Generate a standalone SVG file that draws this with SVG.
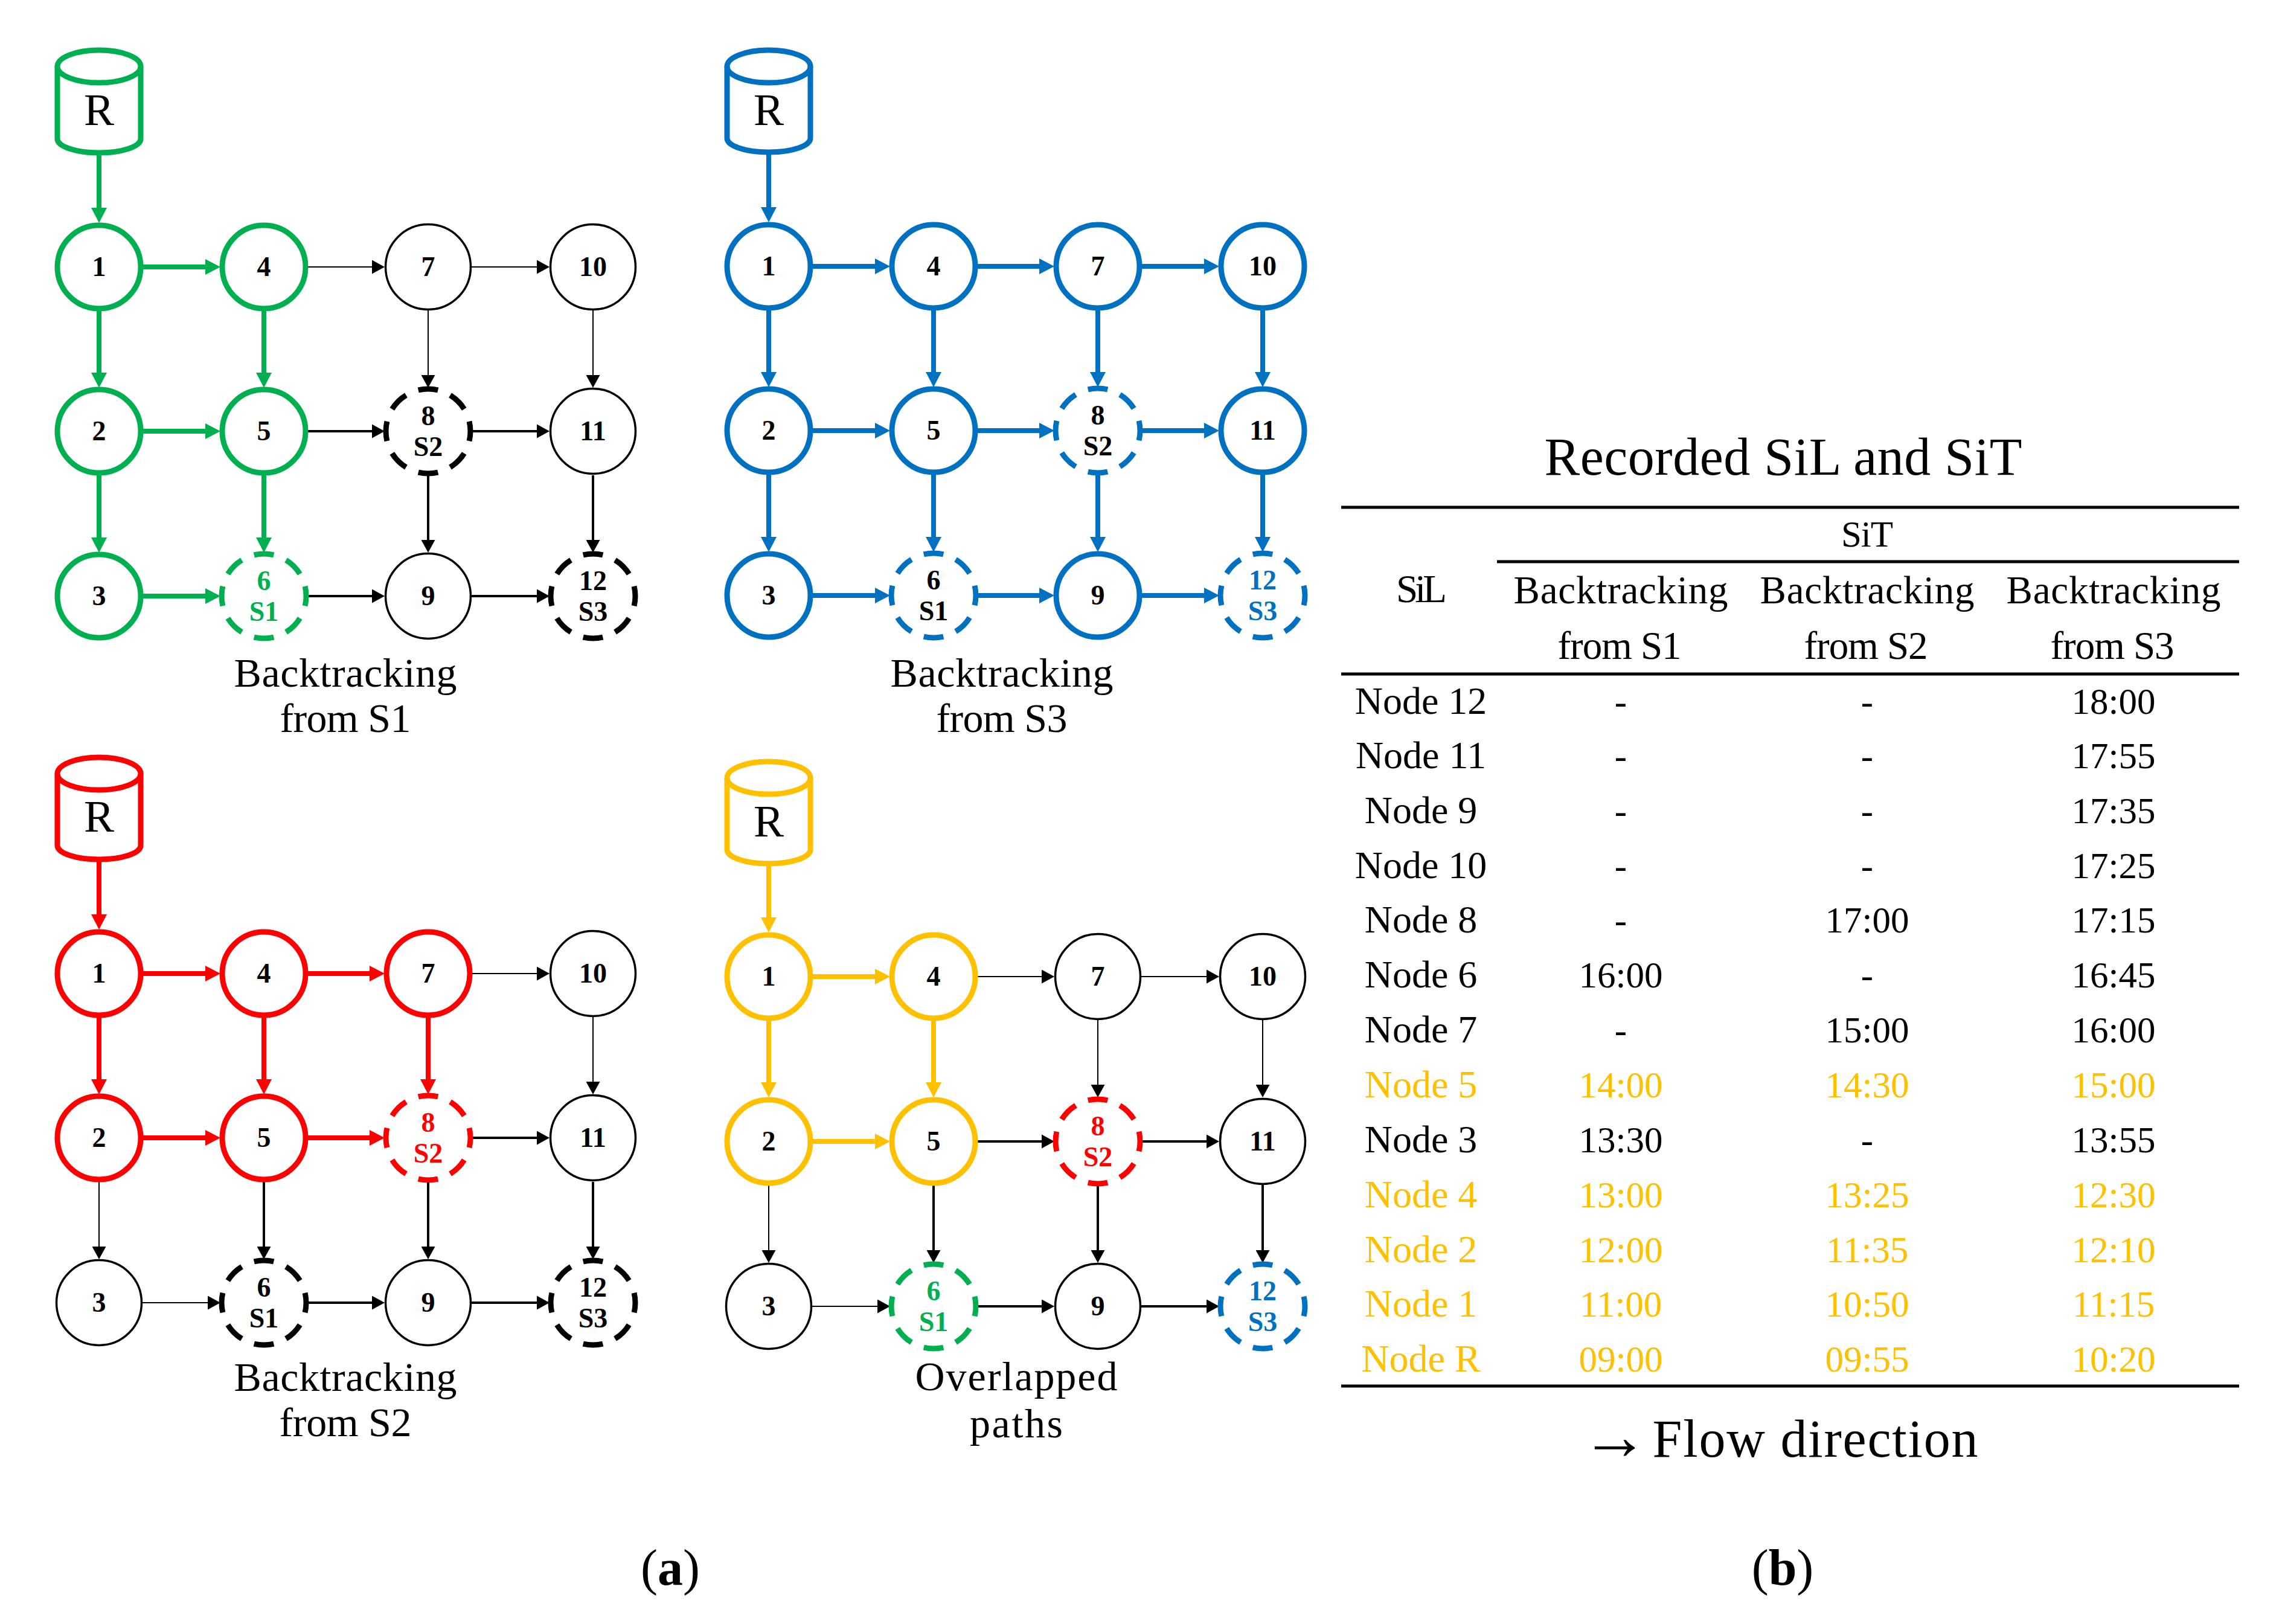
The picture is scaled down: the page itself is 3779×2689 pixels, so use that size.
<svg xmlns="http://www.w3.org/2000/svg" width="3779" height="2689" viewBox="0 0 3779 2689">
<style>
text{font-family:"Liberation Serif","Times New Roman",serif;text-anchor:middle;fill:#000}
.num{font-size:46px;font-weight:700}
.r{font-size:75px}
.cap{font-size:68px}
.tb{font-size:61px}
.hd{font-size:65px}
.nd text:first-child{font-size:64px}
.big{font-size:88px}
.lab{font-size:84px}
.y text,text.y{fill:#FFC000}
text.g{fill:#00B050}text.b{fill:#0070C0}text.d{fill:#FF0000}
line,circle,path{fill:none}
circle{fill:#fff}
.n0{stroke:#000;stroke-width:3.5}
.nk{stroke-width:9}
.dash{stroke-width:9;stroke-dasharray:.6 .4;stroke-dashoffset:.3}
.sg{stroke:#00B050}.sb{stroke:#0070C0}.sd{stroke:#FF0000}.sy{stroke:#FFC000}.sk{stroke:#000}
.t line{stroke:#000;stroke-width:2;marker-end:url(#ah)}
.m line{stroke:#000;stroke-width:4;marker-end:url(#ah)}
.kg line{stroke:#00B050;stroke-width:8;marker-end:url(#ag)}
.kb line{stroke:#0070C0;stroke-width:8;marker-end:url(#ab)}
.kd line{stroke:#FF0000;stroke-width:8;marker-end:url(#ad)}
.ky line{stroke:#FFC000;stroke-width:8;marker-end:url(#ay)}
.rule{stroke:#000;stroke-width:5}
</style>
<defs>
<marker id="ah" markerUnits="userSpaceOnUse" markerWidth="21" markerHeight="23" refX="0" refY="11.5" orient="auto"><path d="M0 0L21 11.5L0 23Z" style="fill:#000"/></marker>
<marker id="ag" markerUnits="userSpaceOnUse" markerWidth="25" markerHeight="26" refX="0" refY="13" orient="auto"><path d="M0 0L25 13L0 26Z" style="fill:#00B050"/></marker>
<marker id="ab" markerUnits="userSpaceOnUse" markerWidth="25" markerHeight="26" refX="0" refY="13" orient="auto"><path d="M0 0L25 13L0 26Z" style="fill:#0070C0"/></marker>
<marker id="ad" markerUnits="userSpaceOnUse" markerWidth="25" markerHeight="26" refX="0" refY="13" orient="auto"><path d="M0 0L25 13L0 26Z" style="fill:#FF0000"/></marker>
<marker id="ay" markerUnits="userSpaceOnUse" markerWidth="25" markerHeight="26" refX="0" refY="13" orient="auto"><path d="M0 0L25 13L0 26Z" style="fill:#FFC000"/></marker>
</defs>

<g id="panel-s1" transform="translate(164 442)">
<g id="s1-R"><path class="nk sg" d="M-69 -332V-212A69 23 0 0 0 69 -212V-332"/><ellipse class="nk sg" cx="0" cy="-332" rx="69" ry="27" fill="none"/><text class="r" y="-235">R</text></g>
<g id="s1-connectors">
<g class="kg"><line x1="0" y1="-185" x2="0" y2="-98"/><line x1="73" y1="0" x2="176" y2="0"/><line x1="73" y1="272" x2="176" y2="272"/><line x1="73" y1="545" x2="176" y2="545"/><line x1="0" y1="73" x2="0" y2="175"/><line x1="0" y1="345" x2="0" y2="448"/><line x1="273" y1="73" x2="273" y2="175"/><line x1="273" y1="345" x2="273" y2="448"/></g>
<g class="t"><line x1="346" y1="0" x2="452" y2="0"/><line x1="617" y1="0" x2="725" y2="0"/><line x1="545" y1="72" x2="545" y2="179"/><line x1="818" y1="72" x2="818" y2="179"/></g>
<g class="m"><line x1="346" y1="272" x2="452" y2="272"/><line x1="617" y1="272" x2="725" y2="272"/><line x1="346" y1="545" x2="452" y2="545"/><line x1="617" y1="545" x2="725" y2="545"/><line x1="545" y1="345" x2="545" y2="452"/><line x1="818" y1="345" x2="818" y2="452"/></g>
</g>
<g id="s1-n1"><circle class="nk sg" r="69"/><text class="num" y="15">1</text></g>
<g id="s1-n2" transform="translate(0 272)"><circle class="nk sg" r="69"/><text class="num" y="15">2</text></g>
<g id="s1-n3" transform="translate(0 545)"><circle class="nk sg" r="69"/><text class="num" y="15">3</text></g>
<g id="s1-n4" transform="translate(273 0)"><circle class="nk sg" r="69"/><text class="num" y="15">4</text></g>
<g id="s1-n5" transform="translate(273 272)"><circle class="nk sg" r="69"/><text class="num" y="15">5</text></g>
<g id="s1-n6" transform="translate(273 545)"><circle class="dash sg" r="70" pathLength="8"/><text class="num g" y="-10">6</text><text class="num g" y="41">S1</text></g>
<g id="s1-n7" transform="translate(545 0)"><circle class="n0" r="70.5"/><text class="num" y="15">7</text></g>
<g id="s1-n8" transform="translate(545 272)"><circle class="dash sk" r="70" pathLength="8"/><text class="num" y="-10">8</text><text class="num" y="41">S2</text></g>
<g id="s1-n9" transform="translate(545 545)"><circle class="n0" r="70.5"/><text class="num" y="15">9</text></g>
<g id="s1-n10" transform="translate(818 0)"><circle class="n0" r="70.5"/><text class="num" y="15">10</text></g>
<g id="s1-n11" transform="translate(818 272)"><circle class="n0" r="70.5"/><text class="num" y="15">11</text></g>
<g id="s1-n12" transform="translate(818 545)"><circle class="dash sk" r="70" pathLength="8"/><text class="num" y="-10">12</text><text class="num" y="41">S3</text></g>
</g>

<g id="panel-s3" transform="translate(1273 441)">
<g id="s3-R"><path class="nk sb" d="M-69 -331V-212A69 23 0 0 0 69 -212V-331"/><ellipse class="nk sb" cx="0" cy="-331" rx="69" ry="27" fill="none"/><text class="r" y="-234">R</text></g>
<g id="s3-connectors">
<g class="kb"><line x1="0" y1="-185" x2="0" y2="-98"/><line x1="73" y1="0" x2="176" y2="0"/><line x1="346" y1="0" x2="448" y2="0"/><line x1="618" y1="0" x2="721" y2="0"/><line x1="73" y1="272" x2="176" y2="272"/><line x1="346" y1="272" x2="448" y2="272"/><line x1="618" y1="272" x2="721" y2="272"/><line x1="73" y1="545" x2="176" y2="545"/><line x1="346" y1="545" x2="448" y2="545"/><line x1="618" y1="545" x2="721" y2="545"/><line x1="0" y1="73" x2="0" y2="175"/><line x1="273" y1="73" x2="273" y2="175"/><line x1="545" y1="73" x2="545" y2="175"/><line x1="818" y1="73" x2="818" y2="175"/><line x1="0" y1="345" x2="0" y2="448"/><line x1="273" y1="345" x2="273" y2="448"/><line x1="545" y1="345" x2="545" y2="448"/><line x1="818" y1="345" x2="818" y2="448"/></g>
</g>
<g id="s3-n1"><circle class="nk sb" r="69"/><text class="num" y="15">1</text></g>
<g id="s3-n2" transform="translate(0 272)"><circle class="nk sb" r="69"/><text class="num" y="15">2</text></g>
<g id="s3-n3" transform="translate(0 545)"><circle class="nk sb" r="69"/><text class="num" y="15">3</text></g>
<g id="s3-n4" transform="translate(273 0)"><circle class="nk sb" r="69"/><text class="num" y="15">4</text></g>
<g id="s3-n5" transform="translate(273 272)"><circle class="nk sb" r="69"/><text class="num" y="15">5</text></g>
<g id="s3-n6" transform="translate(273 545)"><circle class="dash sb" r="70" pathLength="8"/><text class="num" y="-10">6</text><text class="num" y="41">S1</text></g>
<g id="s3-n7" transform="translate(545 0)"><circle class="nk sb" r="69"/><text class="num" y="15">7</text></g>
<g id="s3-n8" transform="translate(545 272)"><circle class="dash sb" r="70" pathLength="8"/><text class="num" y="-10">8</text><text class="num" y="41">S2</text></g>
<g id="s3-n9" transform="translate(545 545)"><circle class="nk sb" r="69"/><text class="num" y="15">9</text></g>
<g id="s3-n10" transform="translate(818 0)"><circle class="nk sb" r="69"/><text class="num" y="15">10</text></g>
<g id="s3-n11" transform="translate(818 272)"><circle class="nk sb" r="69"/><text class="num" y="15">11</text></g>
<g id="s3-n12" transform="translate(818 545)"><circle class="dash sb" r="70" pathLength="8"/><text class="num b" y="-10">12</text><text class="num b" y="41">S3</text></g>
</g>

<g id="panel-s2" transform="translate(164 1612)">
<g id="s2-R"><path class="nk sd" d="M-69 -331V-212A69 23 0 0 0 69 -212V-331"/><ellipse class="nk sd" cx="0" cy="-331" rx="69" ry="27" fill="none"/><text class="r" y="-235">R</text></g>
<g id="s2-connectors">
<g class="kd"><line x1="0" y1="-185" x2="0" y2="-98"/><line x1="73" y1="0" x2="176" y2="0"/><line x1="346" y1="0" x2="448" y2="0"/><line x1="73" y1="272" x2="176" y2="272"/><line x1="346" y1="272" x2="448" y2="272"/><line x1="0" y1="73" x2="0" y2="175"/><line x1="273" y1="73" x2="273" y2="175"/><line x1="545" y1="73" x2="545" y2="175"/></g>
<g class="t"><line x1="617" y1="0" x2="725" y2="0"/><line x1="818" y1="72" x2="818" y2="179"/><line x1="0" y1="344" x2="0" y2="452"/><line x1="72" y1="545" x2="180" y2="545"/></g>
<g class="m"><line x1="617" y1="272" x2="725" y2="272"/><line x1="346" y1="545" x2="452" y2="545"/><line x1="617" y1="545" x2="725" y2="545"/><line x1="273" y1="345" x2="273" y2="452"/><line x1="545" y1="345" x2="545" y2="452"/><line x1="818" y1="345" x2="818" y2="452"/></g>
</g>
<g id="s2-n1"><circle class="nk sd" r="69"/><text class="num" y="15">1</text></g>
<g id="s2-n2" transform="translate(0 272)"><circle class="nk sd" r="69"/><text class="num" y="15">2</text></g>
<g id="s2-n3" transform="translate(0 545)"><circle class="n0" r="70.5"/><text class="num" y="15">3</text></g>
<g id="s2-n4" transform="translate(273 0)"><circle class="nk sd" r="69"/><text class="num" y="15">4</text></g>
<g id="s2-n5" transform="translate(273 272)"><circle class="nk sd" r="69"/><text class="num" y="15">5</text></g>
<g id="s2-n6" transform="translate(273 545)"><circle class="dash sk" r="70" pathLength="8"/><text class="num" y="-10">6</text><text class="num" y="41">S1</text></g>
<g id="s2-n7" transform="translate(545 0)"><circle class="nk sd" r="69"/><text class="num" y="15">7</text></g>
<g id="s2-n8" transform="translate(545 272)"><circle class="dash sd" r="70" pathLength="8"/><text class="num d" y="-10">8</text><text class="num d" y="41">S2</text></g>
<g id="s2-n9" transform="translate(545 545)"><circle class="n0" r="70.5"/><text class="num" y="15">9</text></g>
<g id="s2-n10" transform="translate(818 0)"><circle class="n0" r="70.5"/><text class="num" y="15">10</text></g>
<g id="s2-n11" transform="translate(818 272)"><circle class="n0" r="70.5"/><text class="num" y="15">11</text></g>
<g id="s2-n12" transform="translate(818 545)"><circle class="dash sk" r="70" pathLength="8"/><text class="num" y="-10">12</text><text class="num" y="41">S3</text></g>
</g>

<g id="panel-overlap" transform="translate(1273 1617)">
<g id="ov-R"><path class="nk sy" d="M-69 -329V-210A69 23 0 0 0 69 -210V-329"/><ellipse class="nk sy" cx="0" cy="-329" rx="69" ry="27" fill="none"/><text class="r" y="-232">R</text></g>
<g id="ov-connectors">
<g class="ky"><line x1="0" y1="-183" x2="0" y2="-98"/><line x1="73" y1="0" x2="176" y2="0"/><line x1="73" y1="273" x2="176" y2="273"/><line x1="0" y1="73" x2="0" y2="175"/><line x1="273" y1="73" x2="273" y2="175"/></g>
<g class="t"><line x1="346" y1="0" x2="452" y2="0"/><line x1="617" y1="0" x2="725" y2="0"/><line x1="545" y1="72" x2="545" y2="179"/><line x1="818" y1="72" x2="818" y2="179"/><line x1="0" y1="344" x2="0" y2="453"/><line x1="72" y1="546" x2="180" y2="546"/></g>
<g class="m"><line x1="346" y1="273" x2="452" y2="273"/><line x1="617" y1="273" x2="725" y2="273"/><line x1="346" y1="546" x2="452" y2="546"/><line x1="617" y1="546" x2="725" y2="546"/><line x1="273" y1="345" x2="273" y2="453"/><line x1="545" y1="345" x2="545" y2="453"/><line x1="818" y1="345" x2="818" y2="453"/></g>
</g>
<g id="ov-n1"><circle class="nk sy" r="69"/><text class="num" y="15">1</text></g>
<g id="ov-n2" transform="translate(0 273)"><circle class="nk sy" r="69"/><text class="num" y="15">2</text></g>
<g id="ov-n3" transform="translate(0 546)"><circle class="n0" r="70.5"/><text class="num" y="15">3</text></g>
<g id="ov-n4" transform="translate(273 0)"><circle class="nk sy" r="69"/><text class="num" y="15">4</text></g>
<g id="ov-n5" transform="translate(273 273)"><circle class="nk sy" r="69"/><text class="num" y="15">5</text></g>
<g id="ov-n6" transform="translate(273 546)"><circle class="dash sg" r="70" pathLength="8"/><text class="num g" y="-10">6</text><text class="num g" y="41">S1</text></g>
<g id="ov-n7" transform="translate(545 0)"><circle class="n0" r="70.5"/><text class="num" y="15">7</text></g>
<g id="ov-n8" transform="translate(545 273)"><circle class="dash sd" r="70" pathLength="8"/><text class="num d" y="-10">8</text><text class="num d" y="41">S2</text></g>
<g id="ov-n9" transform="translate(545 546)"><circle class="n0" r="70.5"/><text class="num" y="15">9</text></g>
<g id="ov-n10" transform="translate(818 0)"><circle class="n0" r="70.5"/><text class="num" y="15">10</text></g>
<g id="ov-n11" transform="translate(818 273)"><circle class="n0" r="70.5"/><text class="num" y="15">11</text></g>
<g id="ov-n12" transform="translate(818 546)"><circle class="dash sb" r="70" pathLength="8"/><text class="num b" y="-10">12</text><text class="num b" y="41">S3</text></g>
</g>

<g id="captions">
<text class="cap" x="572" y="1137" textLength="369">Backtracking</text><text class="cap" x="572" y="1212" textLength="217">from S1</text>
<text class="cap" x="1659" y="1137" textLength="369">Backtracking</text><text class="cap" x="1659" y="1212" textLength="217">from S3</text>
<text class="cap" x="572" y="2303" textLength="369">Backtracking</text><text class="cap" x="572" y="2378" textLength="219">from S2</text>
<text class="cap" x="1683" y="2302" textLength="335">Overlapped</text><text class="cap" x="1683" y="2380" textLength="154">paths</text>
<text class="lab" x="1110" y="2624"><tspan>(</tspan><tspan font-weight="700">a</tspan><tspan>)</tspan></text>
<text class="lab" x="2952" y="2624"><tspan>(</tspan><tspan font-weight="700">b</tspan><tspan>)</tspan></text>
</g>

<g id="table">
<text class="big" x="2953" y="786" textLength="791">Recorded SiL and SiT</text>
<line class="rule" x1="2221" y1="840" x2="3708" y2="840"/>
<line class="rule" x1="2479" y1="930" x2="3708" y2="930"/>
<line class="rule" x1="2221" y1="1116" x2="3708" y2="1116"/>
<line class="rule" x1="2221" y1="2295" x2="3708" y2="2295"/>
<text class="tb" x="3092" y="905" textLength="86">SiT</text>
<text class="hd" x="2354" y="997" textLength="84">SiL</text>
<text class="hd" x="2684" y="999" textLength="355">Backtracking</text><text class="hd" x="3092" y="999" textLength="355">Backtracking</text><text class="hd" x="3500" y="999" textLength="355">Backtracking</text>
<text class="hd" x="2682" y="1091" textLength="205">from S1</text><text class="hd" x="3090" y="1091" textLength="205">from S2</text><text class="hd" x="3498" y="1091" textLength="205">from S3</text>
<g class="tb nd" id="rows">
<g><text x="2353" y="1182">Node 12</text><text x="2684" y="1182">-</text><text x="3092" y="1182">-</text><text x="3500" y="1182">18:00</text></g>
<g><text x="2353" y="1272">Node 11</text><text x="2684" y="1272">-</text><text x="3092" y="1272">-</text><text x="3500" y="1272">17:55</text></g>
<g><text x="2353" y="1363">Node 9</text><text x="2684" y="1363">-</text><text x="3092" y="1363">-</text><text x="3500" y="1363">17:35</text></g>
<g><text x="2353" y="1454">Node 10</text><text x="2684" y="1454">-</text><text x="3092" y="1454">-</text><text x="3500" y="1454">17:25</text></g>
<g><text x="2353" y="1544">Node 8</text><text x="2684" y="1544">-</text><text x="3092" y="1544">17:00</text><text x="3500" y="1544">17:15</text></g>
<g><text x="2353" y="1635">Node 6</text><text x="2684" y="1635">16:00</text><text x="3092" y="1635">-</text><text x="3500" y="1635">16:45</text></g>
<g><text x="2353" y="1726">Node 7</text><text x="2684" y="1726">-</text><text x="3092" y="1726">15:00</text><text x="3500" y="1726">16:00</text></g>
<g class="y"><text x="2353" y="1817">Node 5</text><text x="2684" y="1817">14:00</text><text x="3092" y="1817">14:30</text><text x="3500" y="1817">15:00</text></g>
<g><text x="2353" y="1908">Node 3</text><text x="2684" y="1908">13:30</text><text x="3092" y="1908">-</text><text x="3500" y="1908">13:55</text></g>
<g class="y"><text x="2353" y="1999">Node 4</text><text x="2684" y="1999">13:00</text><text x="3092" y="1999">13:25</text><text x="3500" y="1999">12:30</text></g>
<g class="y"><text x="2353" y="2090">Node 2</text><text x="2684" y="2090">12:00</text><text x="3092" y="2090">11:35</text><text x="3500" y="2090">12:10</text></g>
<g class="y"><text x="2353" y="2180">Node 1</text><text x="2684" y="2180">11:00</text><text x="3092" y="2180">10:50</text><text x="3500" y="2180">11:15</text></g>
<g class="y"><text x="2353" y="2271">Node R</text><text x="2684" y="2271">09:00</text><text x="3092" y="2271">09:55</text><text x="3500" y="2271">10:20</text></g>
</g>
<text class="big" x="2674" y="2416" style="font-size:112px">→</text>
<text class="big" x="3006" y="2412" textLength="539">Flow direction</text>
</g>
</svg>
